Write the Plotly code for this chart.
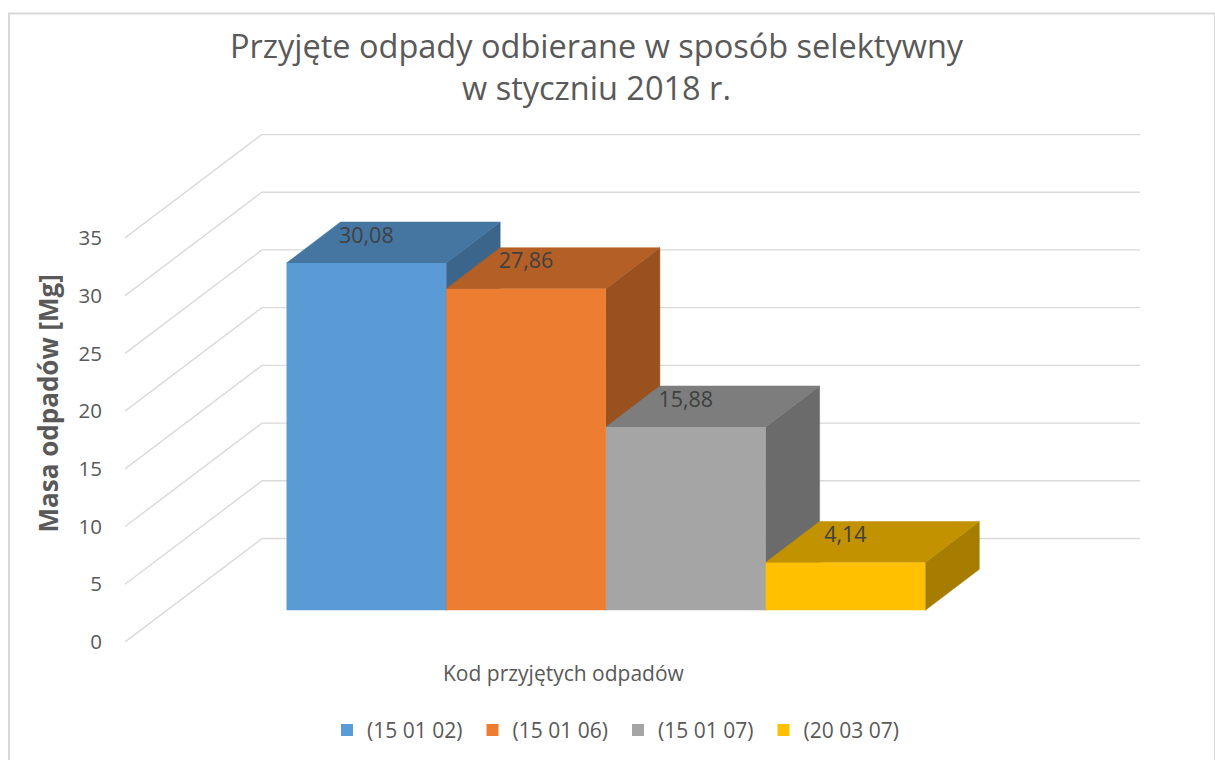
import plotly.graph_objects as go

# --- data ---
categories = ["(15 01 02)", "(15 01 06)", "(15 01 07)", "(20 03 07)"]
values = [30.08, 27.86, 15.88, 4.14]
value_labels = ["30,08", "27,86", "15,88", "4,14"]
y_ticks = [0, 5, 10, 15, 20, 25, 30, 35]

# --- styling ---
front_colors = ["#5B9BD5", "#ED7D31", "#A5A5A5", "#FFC000"]
top_colors = ["#4576A2", "#B35F25", "#7D7D7D", "#C29200"]
side_colors = ["#3B658A", "#9A5120", "#6B6B6B", "#A67D00"]
GRID = "#D9D9D9"
TEXT = "#595959"
FONT = "Open Sans"

# Plot frame in pixels (used only to place things in the oblique projection)
L, R, T, B = 125.0, 1140.0, 133.5, 641.7
W_PX, H_PX = 1215, 760
BAR_PX = 159.7
UNIT_PX = 11.55
Y_MAX = (B - T) / UNIT_PX
X_MIN = -0.5 - (286.5 - L) / BAR_PX
X_MAX = X_MIN + (R - L) / BAR_PX

# Oblique depth offsets, in axis units
WALL_DX, WALL_DY = 137 / BAR_PX, 103.5 / UNIT_PX
BAR_DX, BAR_DY = 54 / BAR_PX, 41 / UNIT_PX
FLOOR = (B - 610) / UNIT_PX
LABEL_UP = 25.8 / UNIT_PX

fig = go.Figure()

# Gridlines: front edge -> back wall -> right end
gx, gy = [], []
for t in y_ticks:
    gx += [X_MIN, X_MIN + WALL_DX, X_MAX, None]
    gy += [t, t + WALL_DY, t + WALL_DY, None]
fig.add_trace(go.Scatter(x=gx, y=gy, mode="lines", line=dict(color=GRID, width=1.4),
                         hoverinfo="skip", showlegend=False, cliponaxis=False))

# Side and top faces, painted left to right
for i, v in enumerate(values):
    l, r, h = i - 0.5, i + 0.5, v + FLOOR
    fig.add_trace(go.Scatter(
        x=[r, r + BAR_DX, r + BAR_DX, r, r],
        y=[FLOOR, FLOOR + BAR_DY, h + BAR_DY, h, FLOOR],
        mode="lines", fill="toself", fillcolor=side_colors[i],
        line=dict(color=side_colors[i], width=0.5),
        hoverinfo="skip", showlegend=False))
    fig.add_trace(go.Scatter(
        x=[l, l + BAR_DX, r + BAR_DX, r, l],
        y=[h, h + BAR_DY, h + BAR_DY, h, h],
        mode="lines", fill="toself", fillcolor=top_colors[i],
        line=dict(color=top_colors[i], width=0.5),
        hoverinfo="skip", showlegend=False))

# Value labels on the top faces
fig.add_trace(go.Scatter(
    x=list(range(len(values))),
    y=[v + FLOOR + LABEL_UP for v in values],
    mode="text", text=value_labels, textposition="middle center",
    textfont=dict(family=FONT, size=21.5, color="#404040"),
    hoverinfo="skip", showlegend=False, cliponaxis=False))

# Front faces on an overlaid axis pair, so they sit above the depth faces
for i, v in enumerate(values):
    fig.add_trace(go.Bar(
        x=[i], y=[v], base=[FLOOR], width=1, name=categories[i],
        marker=dict(color=front_colors[i], line=dict(width=0)),
        xaxis="x2", yaxis="y2", hovertemplate=categories[i] + ": " + value_labels[i] + "<extra></extra>"))


def px(x):
    return (x - L) / (R - L)


def py(y):
    return (B - y) / (B - T)


fig.update_layout(
    width=W_PX, height=H_PX,
    autosize=False,
    paper_bgcolor="white", plot_bgcolor="rgba(0,0,0,0)",
    margin=dict(l=L, r=W_PX - R, t=T, b=H_PX - B, autoexpand=False, pad=0),
    font=dict(family=FONT, color=TEXT, size=20),
    barmode="overlay",
    title=dict(text="Przyjęte odpady odbierane w sposób selektywny<br>w styczniu 2018 r.",
               x=596.5 / W_PX, xanchor="center", xref="container",
               y=1 - 58 / H_PX, yanchor="middle", yref="container",
               font=dict(family=FONT, size=32.5, color=TEXT)),
    xaxis=dict(range=[X_MIN, X_MAX], visible=False, fixedrange=True),
    yaxis=dict(range=[0, Y_MAX], tickvals=y_ticks, ticktext=[str(t) for t in y_ticks],
               showgrid=False, zeroline=False, showline=False, ticks="",
               ticklabelstandoff=22, tickfont=dict(family=FONT, size=20.5, color=TEXT),
               fixedrange=True),
    xaxis2=dict(range=[X_MIN, X_MAX], overlaying="x", visible=False, fixedrange=True),
    yaxis2=dict(range=[0, Y_MAX], overlaying="y", visible=False, fixedrange=True),
    legend=dict(orientation="h", x=px(327), xanchor="left", y=py(730), yanchor="middle",
                entrywidth=100.5, entrywidthmode="pixels", traceorder="normal",
                font=dict(family=FONT, size=21, color=TEXT), bgcolor="rgba(0,0,0,0)"),
    annotations=[
        dict(text="Kod przyjętych odpadów", xref="paper", yref="paper", x=px(564), y=py(673),
             xanchor="center", yanchor="middle", showarrow=False,
             font=dict(family=FONT, size=21, color=TEXT)),
        dict(text="<b>Masa odpadów [Mg]</b>", xref="paper", yref="paper", x=px(48), y=py(403),
             xanchor="center", yanchor="middle", textangle=-90, showarrow=False,
             font=dict(family=FONT, size=26, color=TEXT)),
    ],
    shapes=[dict(type="rect", xref="paper", yref="paper",
                 x0=px(9), x1=px(1215), y0=py(13), y1=py(770),
                 line=dict(color=GRID, width=2), fillcolor="rgba(0,0,0,0)", layer="below")],
)

fig.write_html("out.html", config={"displayModeBar": False},
               post_script="document.body.style.margin='0';")
